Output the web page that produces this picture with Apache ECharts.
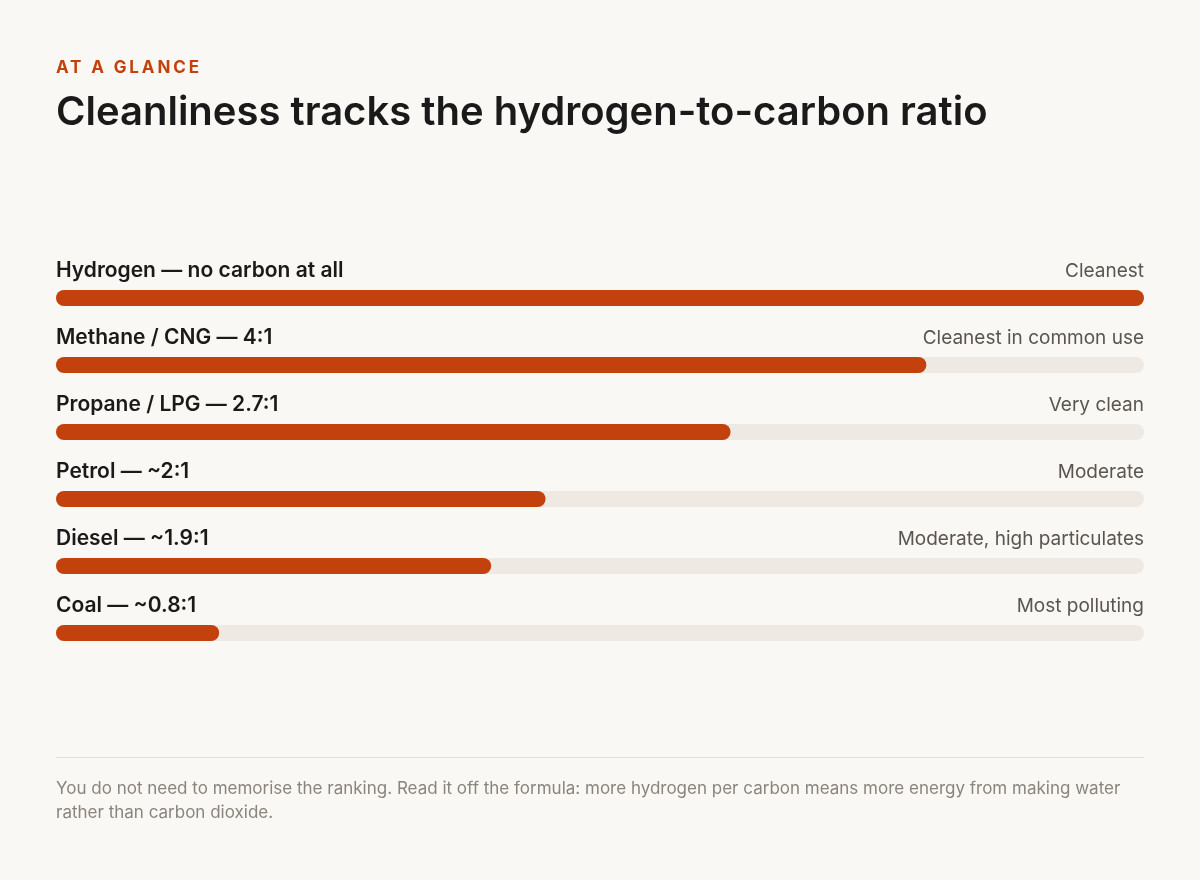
<!DOCTYPE html>
<html>
<head>
<meta charset="utf-8">
<script src="https://cdn.jsdelivr.net/npm/echarts@6/dist/echarts.min.js"></script>
<style>
  html, body { margin: 0; padding: 0; background: #FAF8F4; }
  #wrap { position: relative; width: 1200px; height: 880px; }
  #chart { position: absolute; left: 0; top: 0; width: 1200px; height: 880px; }
  #kicker {
    position: absolute; left: 56px; top: 56px; z-index: 2;
    font-family: Inter, "Noto Sans", sans-serif; font-weight: 700; font-size: 17px;
    letter-spacing: 0.17em; color: #C2410C; line-height: 22px;
  }
</style>
</head>
<body>
<div id="wrap">
  <div id="chart"></div>
  <div id="kicker">AT A GLANCE</div>
</div>
<script>
var fuels = ["Hydrogen — no carbon at all", "Methane / CNG — 4:1", "Propane / LPG — 2.7:1",
             "Petrol — ~2:1", "Diesel — ~1.9:1", "Coal — ~0.8:1"];
var verdicts = ["Cleanest", "Cleanest in common use", "Very clean",
                "Moderate", "Moderate, high particulates", "Most polluting"];
var cleanScore = [100, 80, 62, 45, 40, 15];
var trackMax = [100, 100, 100, 100, 100, 100];

var FONT = 'Inter, "Noto Sans", sans-serif';
var ORANGE = '#C2410C';

var chart = echarts.init(document.getElementById('chart'));
chart.setOption({
  backgroundColor: '#FAF8F4',
  animation: false,
  title: [
    {
      text: 'Cleanliness tracks the hydrogen-to-carbon ratio',
      left: 56, top: 93, padding: 0,
      textStyle: { fontFamily: FONT, fontSize: 40, fontWeight: 600, color: '#1A1A1A' }
    },
    {
      text: 'You do not need to memorise the ranking. Read it off the formula: more hydrogen per carbon means more energy from making water\nrather than carbon dioxide.',
      left: 56, top: 777, padding: 0,
      textStyle: { fontFamily: FONT, fontSize: 17, fontWeight: 400, color: '#8A847D', lineHeight: 24 }
    }
  ],
  graphic: [
    {
      type: 'line',
      shape: { x1: 56, y1: 757.5, x2: 1144, y2: 757.5 },
      style: { stroke: '#E3DFD8', lineWidth: 1 }
    }
  ],
  grid: { left: 56, right: 56, top: 264.5, bottom: 213.5, containLabel: false },
  xAxis: {
    type: 'value', min: 0, max: 100,
    show: false
  },
  yAxis: {
    type: 'category', data: fuels, inverse: true,
    show: false
  },
  series: [
    {
      name: 'track',
      type: 'bar',
      data: trackMax,
      barWidth: 16,
      silent: true,
      itemStyle: { color: '#EEEAE3', borderRadius: 8 },
      label: {
        show: true,
        position: ['100%', -19],
        align: 'right',
        verticalAlign: 'middle',
        fontFamily: FONT, fontSize: 19, fontWeight: 400, color: '#5A5550',
        formatter: function (p) { return verdicts[p.dataIndex]; }
      },
      z: 1
    },
    {
      name: 'score',
      type: 'bar',
      data: cleanScore,
      barWidth: 16,
      barGap: '-100%',
      itemStyle: { color: ORANGE, borderRadius: 8 },
      label: {
        show: true,
        position: [0, -19],
        align: 'left',
        verticalAlign: 'middle',
        fontFamily: FONT, fontSize: 21, fontWeight: 600, color: '#1A1A1A',
        formatter: function (p) { return fuels[p.dataIndex]; }
      },
      z: 2
    }
  ]
});
</script>
</body>
</html>
